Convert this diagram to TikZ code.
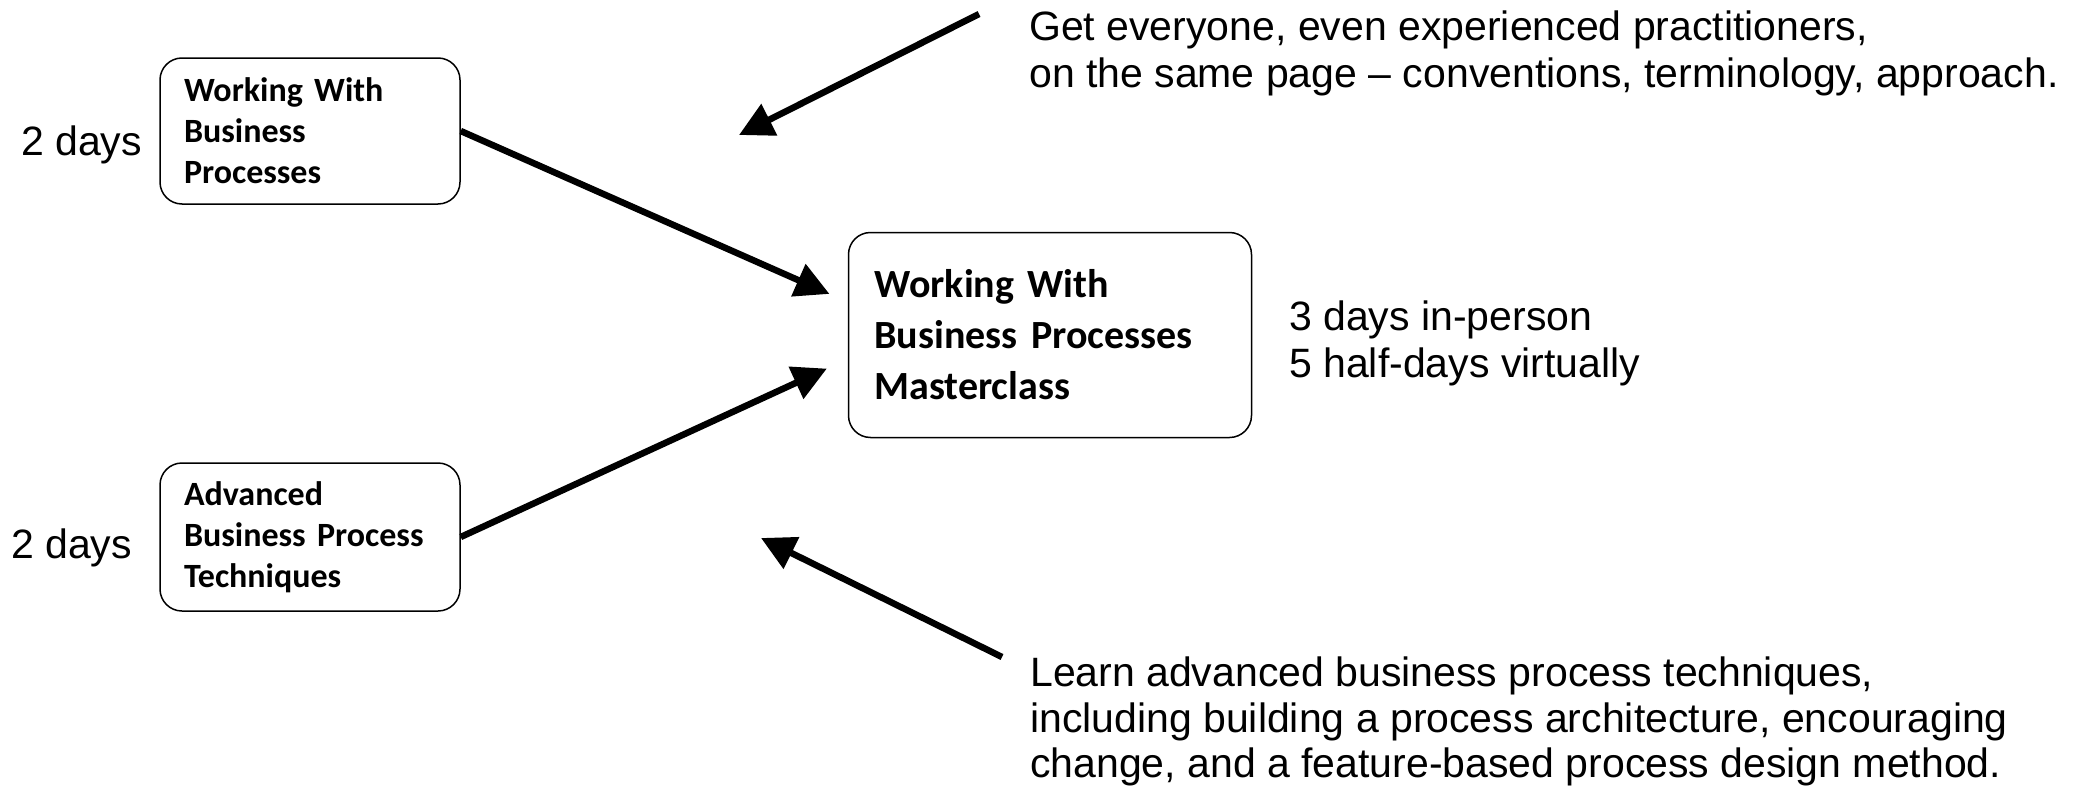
\documentclass[tikz,border=0pt]{standalone}
\usepackage{fontspec}
\setmainfont{Liberation Sans}
\newfontfamily\calibri{Carlito}
\usetikzlibrary{arrows.meta}

\begin{document}
\begin{tikzpicture}[x=1pt, y=-1pt,
    >={Triangle[length=34pt, width=34pt]},
    course/.style={draw, rounded corners=22pt, line width=1.5pt,
      align=left, inner xsep=24pt, inner ysep=0pt},
    small/.style={font=\calibri\bfseries\fontsize{34}{41}\selectfont},
    big/.style={font=\calibri\bfseries\fontsize{40}{51}\selectfont},
    note/.style={inner sep=0pt, align=left, font=\fontsize{41}{47}\selectfont},
    edge/.style={->, line width=6.5pt}]

  \useasboundingbox (0,0) rectangle (2073,787);

  % two-day courses (left)
  \node[course, small, text width=252pt, minimum height=146pt] (wwbp) at (310,131)
    {Working With\\Business\\Processes};
  \node[course, small, text width=252pt, minimum height=148pt] (abpt) at (310,537)
    {Advanced\\Business Process\\Techniques};
  \node[note, anchor=base west] (days1) at (21,155) {2 days};
  \node[note, anchor=base west] (days2) at (11,558) {2 days};

  % masterclass (middle)
  \node[course, big, inner xsep=26pt, text width=351pt, minimum height=205pt] (master) at (1050,335)
    {Working With\\Business Processes\\Masterclass};
  \node[note, anchor=north west] (length) at (1289,301)
    {3 days in-person\\5 half-days virtually};

  % what each course gives
  \node[note, anchor=north west] (samepage) at (1029,11)
    {Get everyone, even experienced practitioners,\\on the same page -- conventions, terminology, approach.};
  \node[note, anchor=north west, font=\fontsize{41}{45.5}\selectfont] (advanced) at (1030,657)
    {Learn advanced business process techniques,\\including building a process architecture, encouraging\\change, and a feature-based process design method.};

  \coordinate (sp-from) at (979,14);
  \coordinate (sp-to) at (739,135);
  \coordinate (adv-from) at (1002,657);
  \coordinate (adv-to) at (761,538);

  % courses into the masterclass
  \draw[edge, shorten >=20pt] (wwbp.east) -- ([yshift=33pt]master.west);
  \draw[edge, shorten >=23pt] (abpt.east) -- ([yshift=-24pt]master.west);

  % notes
  \draw[edge] (sp-from) -- (sp-to);
  \draw[edge] (adv-from) -- (adv-to);

\end{tikzpicture}
\end{document}
